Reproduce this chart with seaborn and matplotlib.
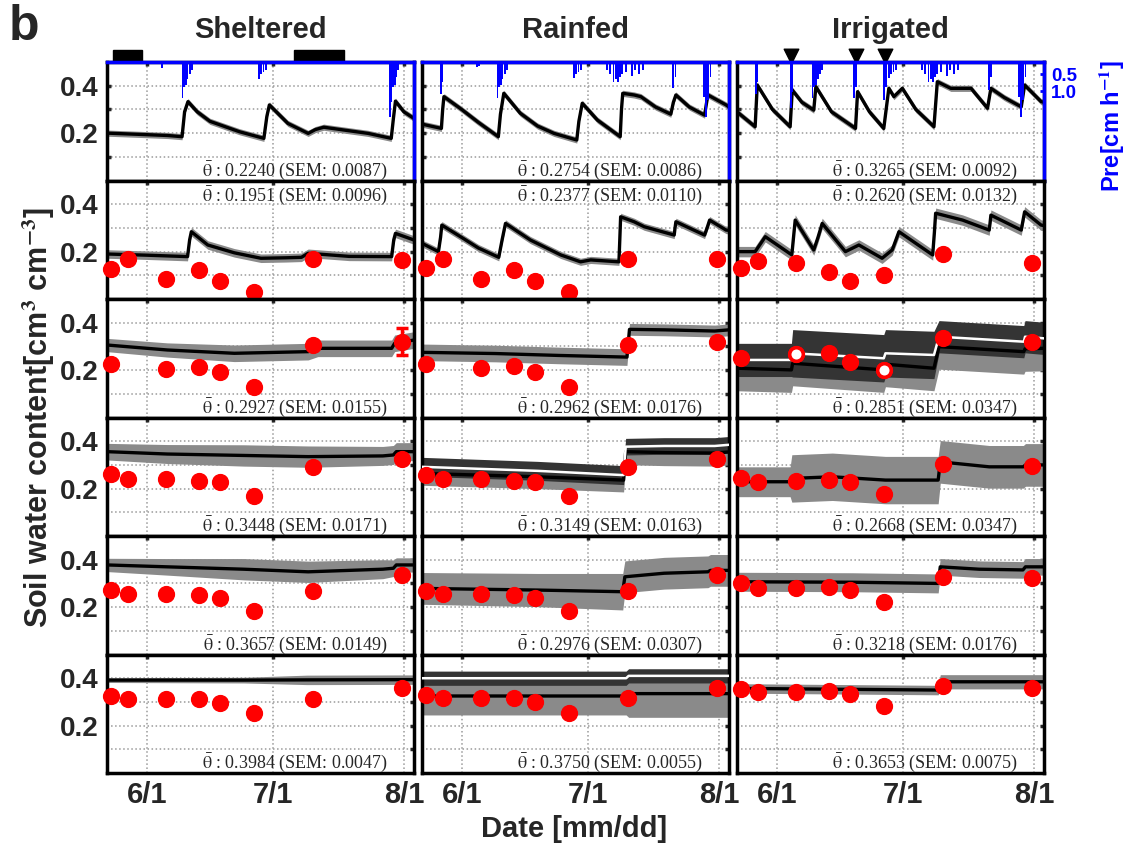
import numpy as np
import matplotlib
matplotlib.use("Agg")
import matplotlib.pyplot as plt
from matplotlib.patches import Rectangle
import seaborn as sns

# ---------------- data ----------------
TREATMENTS = ["Sheltered", "Rainfed", "Irrigated"]
XTICK_DAYS = [152, 182, 213]
XTICK_LABELS = ["6/1", "7/1", "8/1"]
YTICKS = [0.1, 0.2, 0.3, 0.4]
YTICK_LABELS = ["", "0.2", "", "0.4"]
PRE_TICKS = [0.5, 1.0]
PRE_TICK_LABELS = ["0.5", "1.0"]
SAMPLE_DAYS = [143.5, 147.5, 156.5, 164.5, 169.5, 177.5, 191.5, 212.5]
SHELTER_START = [144.1, 187.0]
SHELTER_END = [151.0, 198.7]
IRRIGATION_DAYS = [155.5, 170.7, 177.6]

# precipitation (+irrigation) per treatment [cm/h]
SHEL_PRE_DAY = [155.6, 160.5, 160.9, 161.3, 161.7, 162.2, 162.7, 178.7, 179.2, 179.7, 180.2,
                209.6, 210.0, 210.4, 210.8, 211.2, 211.6]
SHEL_PRE_AMT = [0.33, 1.21, 0.88, 0.81, 0.66, 0.51, 0.37, 0.66, 0.51, 0.44, 0.37,
                1.76, 1.32, 0.88, 0.81, 0.59, 0.37]
RAIN_PRE_DAY = [147.0, 147.4, 155.7, 156.2, 160.5, 160.9, 161.3, 161.7, 162.2, 162.7,
                178.7, 179.2, 179.7, 180.2, 186.5, 187.2, 188.0, 188.5, 189.0, 189.5, 190.0,
                191.0, 192.3, 193.0, 194.0, 195.0, 202.2, 202.7, 209.5, 210.0, 210.5, 211.0]
RAIN_PRE_AMT = [1.10, 0.74, 0.29, 0.26, 1.21, 0.88, 0.81, 0.66, 0.51, 0.37,
                0.63, 0.51, 0.44, 0.37, 0.37, 0.51, 0.74, 0.66, 0.74, 0.59, 0.51,
                0.44, 0.55, 0.37, 0.51, 0.37, 0.92, 0.59, 1.18, 1.76, 1.25, 0.59]
IRR_PRE_DAY = [147.0, 147.4, 155.4, 155.7, 160.5, 160.9, 161.3, 161.7, 162.2, 162.7,
               170.4, 170.8, 177.5, 177.9, 178.7, 179.2, 179.7, 180.2,
               186.5, 187.2, 188.0, 188.5, 189.0, 189.5, 190.0, 191.0, 192.3, 193.0, 194.0, 195.0,
               202.4, 202.9, 209.5, 210.0, 210.5, 211.0]
IRR_PRE_AMT = [1.10, 0.74, 1.51, 1.03, 1.21, 0.88, 0.81, 0.66, 0.51, 0.37,
               1.21, 0.88, 1.25, 0.88, 0.63, 0.51, 0.44, 0.37,
               0.37, 0.51, 0.74, 0.66, 0.74, 0.59, 0.51, 0.44, 0.55, 0.37, 0.51, 0.37,
               0.96, 0.59, 1.18, 1.76, 1.25, 0.59]

# soil water content series (depth rows 1..6)
SHEL_1_DAY = [142.6, 150, 157, 160.4, 161.0, 161.8, 164, 167, 174, 179.8, 180.5, 181.1, 185.5,
              190.3, 192.0, 194, 198, 204.5, 210.0, 210.5, 211.0, 213, 215.4]
SHEL_1_VAL = [0.200, 0.195, 0.190, 0.185, 0.29, 0.333, 0.29, 0.25, 0.206, 0.178, 0.27, 0.319, 0.241,
              0.199, 0.215, 0.225, 0.215, 0.199, 0.178, 0.26, 0.335, 0.29, 0.262]
SHEL_1_SD = 0.013
RAIN_1_DAY = [142.6, 147.2, 147.5, 147.8, 152, 156, 160.7, 161.2, 162.0, 165.9, 170, 173.9, 179.3,
              179.8, 180.6, 184.2, 189.6, 189.9, 190.2, 192.9, 194.5, 198, 201.6, 202.2, 202.8,
              206, 209.6, 210.0, 210.4, 214.7, 215.4]
RAIN_1_VAL = [0.238, 0.220, 0.30, 0.354, 0.30, 0.245, 0.185, 0.28, 0.368, 0.284, 0.23, 0.199, 0.171,
              0.25, 0.326, 0.255, 0.185, 0.30, 0.368, 0.361, 0.354, 0.31, 0.28, 0.33, 0.361,
              0.31, 0.276, 0.32, 0.361, 0.319, 0.31]
RAIN_1_SD = 0.013
IRR_1_DAY = [142.6, 146.9, 147.4, 151, 155.2, 155.7, 158, 160.8, 161.3, 165, 170.7, 171.2, 174,
             177.4, 178.6, 179.8, 181.8, 185, 189.3, 190.1, 193.3, 198.1, 202.0, 202.8, 206,
             210.0, 210.8, 214.7, 215.4]
IRR_1_VAL = [0.29, 0.227, 0.403, 0.30, 0.227, 0.382, 0.33, 0.297, 0.396, 0.29, 0.220, 0.375, 0.29,
             0.220, 0.389, 0.354, 0.389, 0.30, 0.227, 0.417, 0.389, 0.389, 0.305, 0.389, 0.35,
             0.311, 0.403, 0.333, 0.33]
IRR_1_SD = 0.013

SHEL_2_DAY = [142.6, 152, 161.7, 162.2, 162.6, 166.5, 172.8, 179.1, 185, 188.7, 190.3, 200,
              210.1, 210.6, 211.0, 215.4]
SHEL_2_VAL = [0.190, 0.185, 0.179, 0.25, 0.284, 0.228, 0.195, 0.172, 0.174, 0.176, 0.193, 0.18,
              0.179, 0.25, 0.277, 0.249]
SHEL_2_SD = 0.018
RAIN_2_DAY = [142.6, 146.5, 147.0, 147.3, 152, 156, 160.8, 161.6, 162.4, 168.3, 175.5, 180.2,
              182.6, 189.3, 189.5, 189.7, 192.9, 195.3, 202.4, 202.6, 202.8, 209.6, 210.2, 210.8,
              214.7, 215.4]
RAIN_2_VAL = [0.235, 0.200, 0.26, 0.312, 0.26, 0.215, 0.176, 0.25, 0.319, 0.249, 0.186, 0.157,
              0.165, 0.157, 0.25, 0.347, 0.326, 0.305, 0.270, 0.30, 0.326, 0.270, 0.30, 0.333,
              0.291, 0.29]
RAIN_2_SD = 0.015
IRR_2_DAY = [142.6, 146.9, 149.3, 155.6, 156.0, 156.4, 160.8, 161.8, 162.8, 168.3, 171.5, 177.0,
             179.4, 181.0, 189.0, 189.4, 189.7, 196.1, 202.4, 202.6, 202.8, 210.0, 210.4, 210.8,
             214.7, 215.4]
IRR_2_VAL = [0.200, 0.200, 0.263, 0.186, 0.26, 0.333, 0.207, 0.26, 0.319, 0.200, 0.228, 0.172,
             0.207, 0.284, 0.186, 0.28, 0.362, 0.333, 0.291, 0.32, 0.354, 0.291, 0.33, 0.368,
             0.312, 0.31]
IRR_2_SD = 0.022

SHEL_3_DAY = [142.6, 156.9, 172.8, 190.3, 192.6, 210.1, 210.8, 215.4]
SHEL_3_VAL = [0.306, 0.285, 0.271, 0.278, 0.292, 0.292, 0.313, 0.327]
SHEL_3_SD = [0.028, 0.03, 0.035, 0.035, 0.035, 0.035, 0.035, 0.035]
RAIN_3_DAY = [142.6, 160, 175, 191.2, 191.8, 200, 212, 215.4]
RAIN_3_VAL = [0.275, 0.27, 0.262, 0.255, 0.372, 0.37, 0.365, 0.37]
RAIN_3_SD = [0.035, 0.035, 0.035, 0.035, 0.025, 0.025, 0.025, 0.025]
IRR_3_DAY = [142.6, 155.5, 155.8, 177.4, 177.8, 189.3, 190.5, 210.6, 210.9, 215.4]
IRR_3_VAL = [0.208, 0.201, 0.229, 0.201, 0.225, 0.208, 0.299, 0.278, 0.29, 0.292]
IRR_3_SD = 0.095
IRR_3_VAL2 = [0.243, 0.243, 0.271, 0.250, 0.271, 0.264, 0.341, 0.320, 0.341, 0.334]
IRR_3_SD2 = [0.07, 0.07, 0.1, 0.1, 0.1, 0.1, 0.068, 0.068, 0.068, 0.068]

SHEL_4_DAY = [142.6, 156.9, 175, 190.3, 208, 210.5, 211.2, 215.4]
SHEL_4_VAL = [0.356, 0.346, 0.340, 0.335, 0.338, 0.342, 0.356, 0.356]
SHEL_4_SD = [0.035, 0.04, 0.045, 0.045, 0.04, 0.04, 0.038, 0.038]
RAIN_4_DAY = [142.6, 170, 190.4, 190.9, 200, 212, 215.4]
RAIN_4_VAL = [0.264, 0.25, 0.236, 0.356, 0.352, 0.35, 0.355]
RAIN_4_SD = [0.05, 0.05, 0.05, 0.055, 0.055, 0.055, 0.055]
RAIN_4_VAL2 = [0.292, 0.275, 0.257, 0.377, 0.38, 0.38, 0.385]
RAIN_4_SD2 = [0.04, 0.04, 0.04, 0.035, 0.035, 0.035, 0.035]
IRR_4_DAY = [142.6, 155.2, 155.6, 165.2, 177.8, 190.3, 190.8, 202.4, 210.5, 211, 215.4]
IRR_4_VAL = [0.229, 0.229, 0.243, 0.250, 0.236, 0.236, 0.313, 0.292, 0.292, 0.30, 0.30]
IRR_4_SD = [0.063, 0.063, 0.1, 0.1, 0.1, 0.1, 0.09, 0.09, 0.09, 0.09, 0.09]

SHEL_5_DAY = [142.6, 156.9, 175, 190.3, 208, 210.5, 211.2, 215.4]
SHEL_5_VAL = [0.378, 0.370, 0.36, 0.349, 0.36, 0.364, 0.378, 0.378]
SHEL_5_SD = [0.028, 0.035, 0.045, 0.045, 0.04, 0.035, 0.03, 0.03]
RAIN_5_DAY = [142.6, 170, 190.2, 190.7, 200, 210.4, 211, 215.4]
RAIN_5_VAL = [0.279, 0.272, 0.265, 0.328, 0.343, 0.349, 0.355, 0.355]
RAIN_5_SD = [0.067, 0.07, 0.077, 0.067, 0.067, 0.067, 0.067, 0.067]
IRR_5_DAY = [142.6, 170, 190.3, 190.8, 200, 210.4, 211, 215.4]
IRR_5_VAL = [0.307, 0.305, 0.300, 0.370, 0.36, 0.357, 0.37, 0.37]
IRR_5_SD = [0.04, 0.04, 0.04, 0.035, 0.035, 0.035, 0.035, 0.035]

SHEL_6_DAY = [142.6, 175, 190, 215.4]
SHEL_6_VAL = [0.392, 0.392, 0.393, 0.394]
SHEL_6_SD = [0.01, 0.012, 0.02, 0.02]
RAIN_6_DAY = [142.6, 191, 191.6, 215.4]
RAIN_6_VAL = [0.325, 0.325, 0.335, 0.335]
RAIN_6_SD = [0.08, 0.08, 0.1, 0.1]
RAIN_6_VAL2 = [0.40, 0.40, 0.41, 0.41]
RAIN_6_SD2 = [0.03, 0.03, 0.03, 0.03]
IRR_6_DAY = [142.6, 190.3, 190.8, 215.4]
IRR_6_VAL = [0.357, 0.350, 0.385, 0.385]
IRR_6_SD = [0.02, 0.02, 0.03, 0.03]

# gravimetric observations (rows 2..6), NaN = not sampled
NA = float("nan")
SHEL_OBS_2 = [0.127, 0.169, 0.084, 0.122, 0.076, 0.030, 0.169, 0.165]
RAIN_OBS_2 = [0.130, 0.168, 0.084, 0.121, 0.076, 0.030, 0.168, 0.168]
IRR_OBS_2 = [0.130, 0.159, 0.153, 0.114, 0.075, 0.103, 0.190, 0.151]
SHEL_OBS_3 = [0.226, NA, 0.204, 0.214, 0.192, 0.127, 0.306, 0.320]
RAIN_OBS_3 = [0.226, NA, 0.209, 0.217, 0.192, 0.127, 0.306, 0.320]
IRR_OBS_3 = [0.250, NA, 0.267, 0.271, 0.235, 0.200, 0.334, 0.317]
SHEL_OBS_4 = [0.262, 0.241, 0.241, 0.233, 0.227, 0.169, 0.292, 0.323]
RAIN_OBS_4 = [0.257, 0.241, 0.241, 0.232, 0.228, 0.169, 0.292, 0.324]
IRR_OBS_4 = [0.246, 0.229, 0.232, 0.236, 0.228, 0.177, 0.304, 0.295]
SHEL_OBS_5 = [0.272, 0.255, 0.255, 0.250, 0.240, 0.185, 0.269, 0.334]
RAIN_OBS_5 = [0.269, 0.255, 0.255, 0.251, 0.237, 0.185, 0.268, 0.334]
IRR_OBS_5 = [0.300, 0.279, 0.282, 0.286, 0.272, 0.223, 0.328, 0.324]
SHEL_OBS_6 = [0.325, 0.312, 0.311, 0.312, 0.297, 0.252, 0.311, 0.357]
RAIN_OBS_6 = [0.329, 0.316, 0.316, 0.316, 0.300, 0.253, 0.316, 0.359]
IRR_OBS_6 = [0.354, 0.343, 0.343, 0.346, 0.333, 0.284, 0.367, 0.357]
SHEL_OBS_3_ERR_DAY = [212.5]
SHEL_OBS_3_ERR_VAL = [0.320]
SHEL_OBS_3_ERR = [0.057]
IRR_OBS_3_HOLLOW_DAYS = [156.5, 177.5]
IRR_OBS_3_HOLLOW_VAL = [0.267, 0.200]

# mean and SEM annotations
SHEL_MEAN = [0.2240, 0.1951, 0.2927, 0.3448, 0.3657, 0.3984]
SHEL_SEM = [0.0087, 0.0096, 0.0155, 0.0171, 0.0149, 0.0047]
RAIN_MEAN = [0.2754, 0.2377, 0.2962, 0.3149, 0.2976, 0.3750]
RAIN_SEM = [0.0086, 0.0110, 0.0176, 0.0163, 0.0307, 0.0055]
IRR_MEAN = [0.3265, 0.2620, 0.2851, 0.2668, 0.3218, 0.3653]
IRR_SEM = [0.0092, 0.0132, 0.0347, 0.0347, 0.0176, 0.0075]

# ---------------- assembly ----------------
G = globals()
PREFIX = ["SHEL", "RAIN", "IRR"]

sns.set_style("white")
plt.rcParams["font.family"] = ["Liberation Sans", "DejaVu Sans"]
plt.rcParams["mathtext.fontset"] = "stix"

fig = plt.figure(figsize=(11.31, 8.44), dpi=100)
gs = fig.add_gridspec(6, 3, left=0.0946, right=0.9231, top=0.9265, bottom=0.0841,
                      wspace=0.026, hspace=0.0)

LIGHT = "#8a8a8a"
DARK = "#343434"
BLUE = "#0000ff"
XLIM = (142.6, 215.4)

for c in range(3):
    p = PREFIX[c]
    for r in range(6):
        ax = fig.add_subplot(gs[r, c])
        k = f"{p}_{r + 1}"
        day = np.asarray(G[k + "_DAY"], float)
        val = np.asarray(G[k + "_VAL"], float)
        sd = np.broadcast_to(np.asarray(G[k + "_SD"], float), val.shape)
        ax.fill_between(day, val - sd, val + sd, color=LIGHT, lw=0, zorder=2)
        if k + "_VAL2" in G:
            val2 = np.asarray(G[k + "_VAL2"], float)
            sd2 = np.broadcast_to(np.asarray(G[k + "_SD2"], float), val2.shape)
            ax.fill_between(day, val2 - sd2, val2 + sd2, color=DARK, lw=0, zorder=2.5)
        sns.lineplot(x=day, y=val, ax=ax, color="black", linewidth=2.4,
                     estimator=None, sort=False, zorder=3)
        if k + "_VAL2" in G:
            sns.lineplot(x=day, y=val2, ax=ax, color="white", linewidth=1.8,
                         estimator=None, sort=False, zorder=3.2)

        obs_key = f"{p}_OBS_{r + 1}"
        if obs_key in G:
            obs = np.asarray(G[obs_key], float)
            m = ~np.isnan(obs)
            sns.scatterplot(x=np.asarray(SAMPLE_DAYS)[m], y=obs[m], ax=ax, color="#ff0000",
                            edgecolor="#ff0000", s=130, linewidth=1, zorder=5, clip_on=False)
        if k == "SHEL_3":
            ax.errorbar(SHEL_OBS_3_ERR_DAY, SHEL_OBS_3_ERR_VAL, yerr=SHEL_OBS_3_ERR,
                        fmt="none", ecolor="#ff0000", elinewidth=2.5, capsize=4, capthick=2.5,
                        zorder=6)
        if k == "IRR_3":
            sns.scatterplot(x=IRR_OBS_3_HOLLOW_DAYS, y=IRR_OBS_3_HOLLOW_VAL, ax=ax,
                            color="white", edgecolor="#ff0000", s=95, linewidth=2.5, zorder=6)

        ax.set_xlim(*XLIM)
        ax.set_ylim(0, 0.5)
        ax.set_xticks(XTICK_DAYS)
        ax.set_yticks(YTICKS)
        ax.grid(True, linestyle=":", color="#9a9a9a", linewidth=1.1, zorder=0)
        ax.set_axisbelow(True)
        ax.tick_params(direction="in", length=3, width=2.5, top=True, right=True, pad=6)
        ax.tick_params(axis="y", labelsize=20)
        ax.tick_params(axis="x", labelsize=21)
        if c == 0:
            ax.set_yticklabels(YTICK_LABELS, fontweight="bold")
        else:
            ax.set_yticklabels([])
        if r == 5:
            ax.set_xticklabels(XTICK_LABELS, fontweight="bold")
        else:
            ax.set_xticklabels([])
        ax.set_xlabel("")
        ax.set_ylabel("")
        for s in ax.spines.values():
            s.set_linewidth(2.5)
            s.set_color("black")

        mean = G[p + "_MEAN"][r]
        sem = G[p + "_SEM"][r]
        ty = 0.875 if r == 1 else 0.085
        ax.text(0.915, ty, rf"$\bar{{\mathrm{{\theta}}}}$ : {mean:.4f} (SEM: {sem:.4f})",
                transform=ax.transAxes, ha="right", va="center", fontsize=13,
                family="Liberation Serif", zorder=7)

        if r == 0:
            ax.set_title(TREATMENTS[c], fontsize=21, fontweight="bold", pad=17)
            ax2 = ax.twinx()
            pday = G[p + "_PRE_DAY"]
            pamt = G[p + "_PRE_AMT"]
            ax2.bar(pday, pamt, width=0.45, color=BLUE, linewidth=0, zorder=4)
            ax2.set_ylim(3.63, 0.147)
            ax2.set_xlim(*XLIM)
            for nm, s in ax2.spines.items():
                s.set_linewidth(2.5)
                s.set_color(BLUE)
            ax2.spines["left"].set_visible(False)
            ax2.spines["bottom"].set_visible(False)
            if c == 2:
                ax2.set_yticks(PRE_TICKS)
                ax2.set_yticklabels(PRE_TICK_LABELS, color=BLUE, fontweight="bold",
                                    fontsize=13.5)
                ax2.tick_params(axis="y", direction="in", length=3, width=2, colors=BLUE,
                                pad=5)
                ax.scatter(IRRIGATION_DAYS, [1.055] * len(IRRIGATION_DAYS), marker="v", s=110,
                           color="black", transform=ax.get_xaxis_transform(), clip_on=False,
                           zorder=10)
            else:
                ax2.set_yticks([])
            if c == 0:
                for s0, s1 in zip(SHELTER_START, SHELTER_END):
                    ax.add_patch(Rectangle((s0, 1.0), s1 - s0, 0.105, color="black",
                                           transform=ax.get_xaxis_transform(),
                                           clip_on=False, zorder=10))

fig.text(0.983, 0.85, r"Pre[cm h$^{\mathbf{-1}}$]", rotation=90, ha="center", va="center",
         color=BLUE, fontsize=17, fontweight="bold")
fig.text(0.034, 0.505, r"Soil water content[cm$^{\mathbf{3}}$ cm$^{\mathbf{-3}}$]",
         rotation=90, ha="center", va="center", fontsize=22, fontweight="bold")
fig.text(0.508, 0.018, "Date [mm/dd]", ha="center", va="center", fontsize=21,
         fontweight="bold")
fig.text(0.008, 0.995, "b", ha="left", va="top", fontsize=36, fontweight="bold")

fig.savefig("out.png", dpi=100)
